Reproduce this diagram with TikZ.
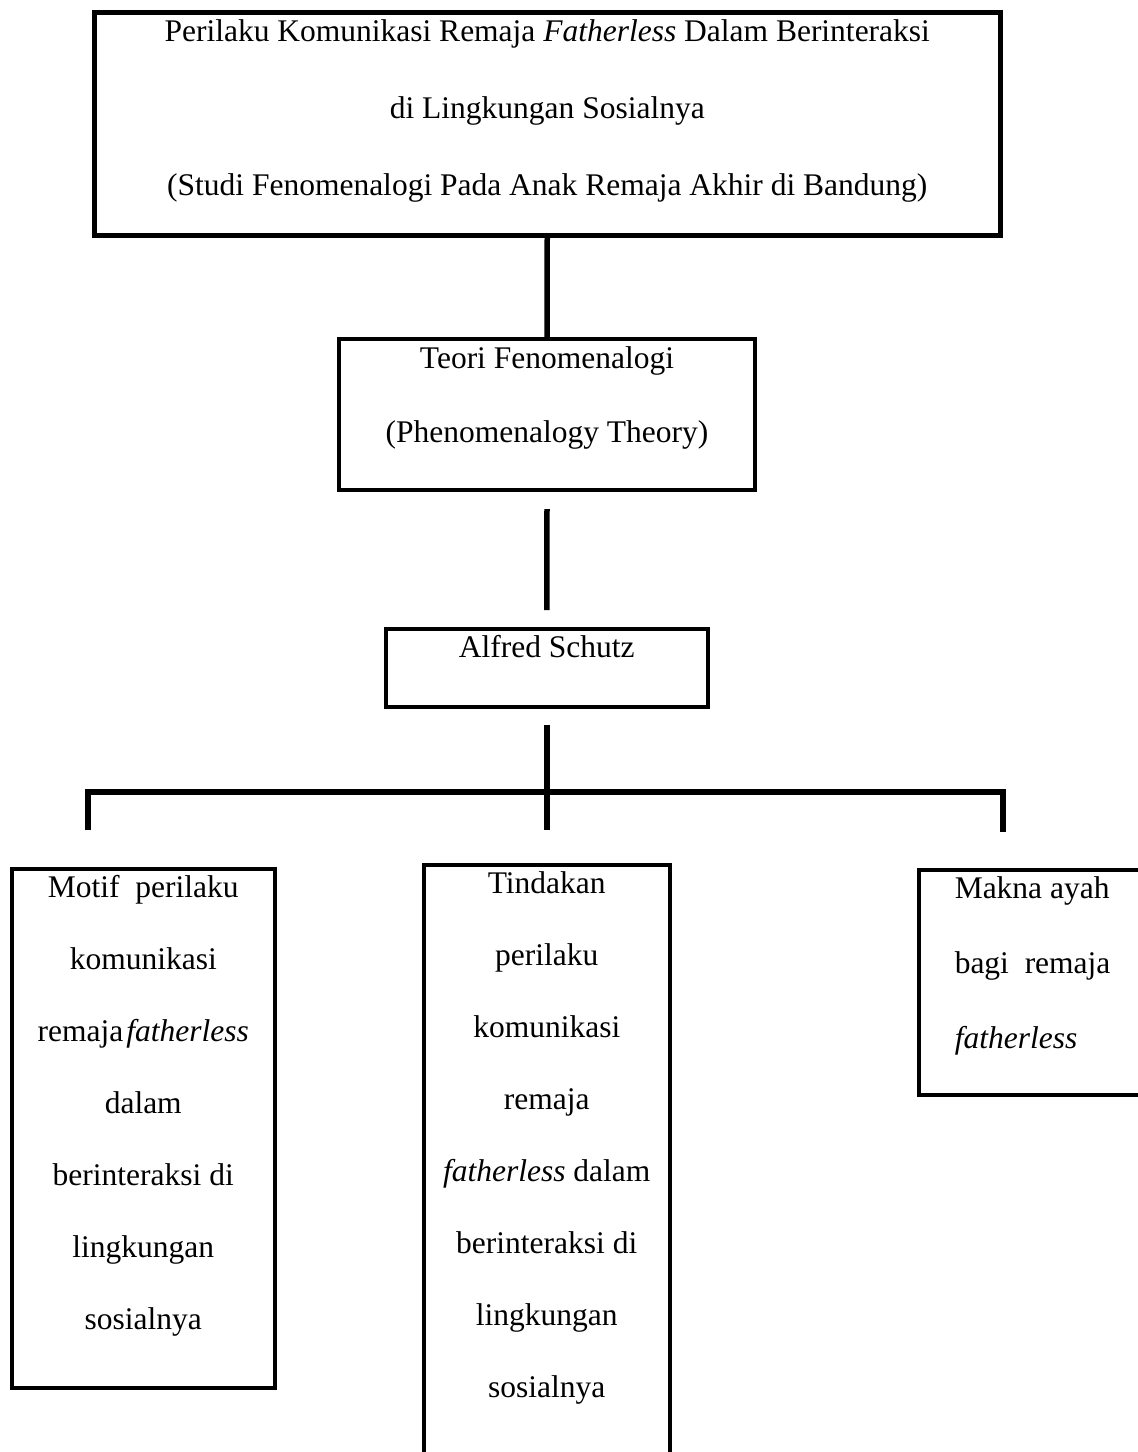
\documentclass[tikz,border=0pt]{standalone}
\usepackage{fontspec}
\setmainfont{Liberation Serif}
\usepackage{tikz}

% box body: width, height, lines (top aligned, centred)
\newcommand{\boxbody}[3]{\parbox[c][#2][t]{#1}{\centering\rule{0pt}{29pt}#3}}

\begin{document}
\begin{tikzpicture}[x=1pt, y=-1pt,
  frame/.style={draw, inner sep=0pt, anchor=north west, line width=3.5pt,
    font=\fontsize{31.5}{74}\selectfont},
  conn/.style={line width=5.5pt}]
  \useasboundingbox (0,0) rectangle (1138,1452);
  \clip (0,0) rectangle (1138,1452);
  % Judul
  \node[frame, line width=4.5pt, font=\fontsize{31.5}{77}\selectfont] (top) at (92,10)
    {\boxbody{906pt}{223pt}{Perilaku Komunikasi Remaja \textit{Fatherless} Dalam Berinteraksi\\
      di Lingkungan Sosialnya\\
      (Studi Fenomenalogi Pada Anak Remaja Akhir di Bandung)}};
  % Teori
  \node[frame, line width=4pt] (teori) at (337,337)
    {\boxbody{416pt}{151pt}{Teori Fenomenalogi\\ (Phenomenalogy Theory)}};
  \node[frame] (alfred) at (384,627) {\boxbody{322pt}{78pt}{Alfred Schutz}};
  % Tiga aspek
  \node[frame, font=\fontsize{31.5}{72}\selectfont] (motif) at (10,867)
    {\boxbody{263pt}{519pt}{Motif\ \ perilaku\\ komunikasi\\ remaja\hspace{3pt}\textit{fatherless}\\
      dalam\\ berinteraksi di\\ lingkungan\\ sosialnya}};
  \node[frame, font=\fontsize{31.5}{72}\selectfont] (tindakan) at (422,863)
    {\boxbody{246pt}{620pt}{Tindakan\\ perilaku\\ komunikasi\\ remaja\\
      \textit{fatherless} dalam\\ berinteraksi di\\ lingkungan\\ sosialnya}};
  \node[frame, font=\fontsize{31.5}{75}\selectfont] (makna) at (917,868)
    {\parbox[c][225pt][t]{240pt}{\raggedright\leftskip=36pt\rule{0pt}{29pt}Makna ayah\\
      bagi\ \ remaja\\ \textit{fatherless}}};
  % Garis penghubung
  \draw[conn] (top.south) -- (teori.north);
  \draw[conn] ([yshift=-17pt]teori.south) -- ([yshift=17pt]alfred.north);
  \draw[conn] ([yshift=-16pt]alfred.south) -- ([yshift=33pt]tindakan.north);
  \coordinate (dropL) at (88,830);
  \coordinate (barL) at (88,792);
  \coordinate (barR) at (1003,792);
  \coordinate (dropR) at (1003,832);
  \draw[conn] (dropL) -- (barL) -- (barR) -- (dropR);
\end{tikzpicture}
\end{document}
